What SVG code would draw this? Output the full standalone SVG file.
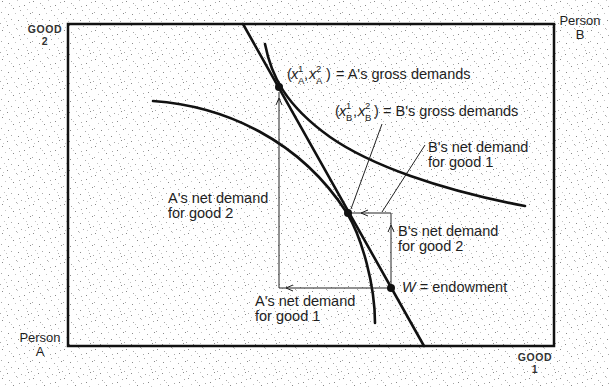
<svg xmlns="http://www.w3.org/2000/svg" xmlns:xlink="http://www.w3.org/1999/xlink" width="609" height="387" viewBox="0 0 609 387">
<style>
.t{font-family:"Liberation Sans",Arial,sans-serif;font-size:14.5px;fill:#1e1e1e}
.s{font-family:"Liberation Sans",Arial,sans-serif;font-size:9.5px;fill:#1e1e1e}
.i{font-style:italic}
.g{font-family:"Liberation Sans",Arial,sans-serif;font-size:10.5px;font-weight:bold;fill:#333;letter-spacing:0.6px}
.p{font-family:"Liberation Sans",Arial,sans-serif;font-size:13px;fill:#1e1e1e}
.thick{fill:none;stroke:#111;stroke-width:2.6;stroke-linecap:round}
.thin{fill:none;stroke:#222;stroke-width:1}
.d1{fill:#8a8a8a}.d2{fill:#a8a8a8}.d3{fill:#c4c4c4}
</style>
<defs>
<pattern id="noise" width="31" height="29" patternUnits="userSpaceOnUse">
<rect class="d1" x="2" y="1" width="1" height="1"/>
<rect class="d2" x="9" y="3" width="1" height="1"/>
<rect class="d3" x="17" y="0" width="1" height="1"/>
<rect class="d1" x="24" y="5" width="1" height="1"/>
<rect class="d2" x="29" y="2" width="1" height="1"/>
<rect class="d3" x="5" y="7" width="1" height="1"/>
<rect class="d1" x="13" y="8" width="1" height="1"/>
<rect class="d2" x="20" y="10" width="1" height="1"/>
<rect class="d3" x="27" y="9" width="1" height="1"/>
<rect class="d2" x="1" y="12" width="1" height="1"/>
<rect class="d1" x="8" y="14" width="1" height="1"/>
<rect class="d3" x="15" y="13" width="1" height="1"/>
<rect class="d2" x="23" y="15" width="1" height="1"/>
<rect class="d1" x="30" y="13" width="1" height="1"/>
<rect class="d3" x="4" y="18" width="1" height="1"/>
<rect class="d2" x="11" y="19" width="1" height="1"/>
<rect class="d1" x="18" y="20" width="1" height="1"/>
<rect class="d3" x="26" y="18" width="1" height="1"/>
<rect class="d2" x="0" y="23" width="1" height="1"/>
<rect class="d1" x="7" y="25" width="1" height="1"/>
<rect class="d3" x="14" y="24" width="1" height="1"/>
<rect class="d2" x="21" y="26" width="1" height="1"/>
<rect class="d1" x="28" y="24" width="1" height="1"/>
<rect class="d3" x="3" y="27" width="1" height="1"/>
<rect class="d2" x="16" y="28" width="1" height="1"/>
<rect class="d3" x="25" y="27" width="1" height="1"/>
<rect class="d3" x="11" y="5" width="1" height="1"/>
<rect class="d2" x="19" y="6" width="1" height="1"/>
<rect class="d3" x="6" y="21" width="1" height="1"/>
<rect class="d2" x="27" y="21" width="1" height="1"/>
</pattern>
<path id="ah" d="M7,-3 L0,0 L7,3" fill="none" stroke="#222" stroke-width="1"/>
</defs>
<rect width="609" height="387" fill="#fff"/>
<rect width="609" height="387" fill="url(#noise)"/>

<g id="box">
<rect x="68" y="24" width="486" height="322" fill="none" stroke="#111" stroke-width="2.5"/>
</g>

<g id="axis-labels">
<text class="g" x="45" y="33" text-anchor="middle">GOOD</text>
<text class="g" x="45" y="45" text-anchor="middle">2</text>
<text class="p" x="580" y="25" text-anchor="middle">Person</text>
<text class="p" x="580" y="39" text-anchor="middle">B</text>
<text class="p" x="40" y="342" text-anchor="middle">Person</text>
<text class="p" x="40" y="356" text-anchor="middle">A</text>
<text class="g" x="535" y="361" text-anchor="middle">GOOD</text>
<text class="g" x="535" y="373" text-anchor="middle">1</text>
</g>

<g id="curves">
<path id="budget-line" class="thick" d="M243,24 L424,346"/>
<path id="indiff-A" class="thick" d="M265,44 C271,75 285,105 330,137 C370,165 440,190 525,206"/>
<path id="indiff-B" class="thick" d="M153,101 C225,106 300,140 347,213 C362,238 375,285 375,323"/>
</g>

<g id="connectors">
<path class="thin" d="M391,288 H279 V92"/>
<use xlink:href="#ah" href="#ah" transform="translate(286,288)"/>
<use xlink:href="#ah" href="#ah" transform="translate(279,98) rotate(90)"/>
<path class="thin" d="M391,288 V213 H350"/>
<use xlink:href="#ah" href="#ah" transform="translate(391,225) rotate(90)"/>
<use xlink:href="#ah" href="#ah" transform="translate(361,213)"/>
<path class="thin" d="M382,124 L351,209"/>
<path class="thin" d="M425,145 L382,212"/>
</g>

<g id="point-A">
<circle cx="279" cy="87" r="4" fill="#111"/>
<text class="t" x="287" y="79">(</text>
<text class="t i" x="291" y="79">x</text>
<text class="s" x="298" y="72">1</text>
<text class="s" x="298" y="84">A</text>
<text class="t" x="304" y="79">,</text>
<text class="t i" x="309" y="79">x</text>
<text class="s" x="316" y="72">2</text>
<text class="s" x="316" y="84">A</text>
<text class="t" x="326" y="79">)</text>
<text class="t" x="336" y="79">= A's gross demands</text>
</g>

<g id="point-B">
<circle cx="348" cy="213" r="4" fill="#111"/>
<text class="t" x="335" y="116">(</text>
<text class="t i" x="339" y="116">x</text>
<text class="s" x="346" y="109">1</text>
<text class="s" x="346" y="121">B</text>
<text class="t" x="353" y="116">,</text>
<text class="t i" x="358" y="116">x</text>
<text class="s" x="365" y="109">2</text>
<text class="s" x="365" y="121">B</text>
<text class="t" x="374" y="116">)</text>
<text class="t" x="383" y="116">= B's gross demands</text>
</g>

<g id="endowment">
<circle cx="391" cy="288" r="4" fill="#111"/>
<text class="t" x="402" y="292"><tspan class="i">W</tspan> = endowment</text>
</g>

<g id="labels">
<text class="t" x="428" y="152">B's net demand</text>
<text class="t" x="428" y="167">for good 1</text>
<text class="t" x="398" y="236">B's net demand</text>
<text class="t" x="398" y="251">for good 2</text>
<text class="t" x="168" y="203">A's net demand</text>
<text class="t" x="168" y="218">for good 2</text>
<text class="t" x="255" y="306">A's net demand</text>
<text class="t" x="255" y="321">for good 1</text>
</g>
</svg>
